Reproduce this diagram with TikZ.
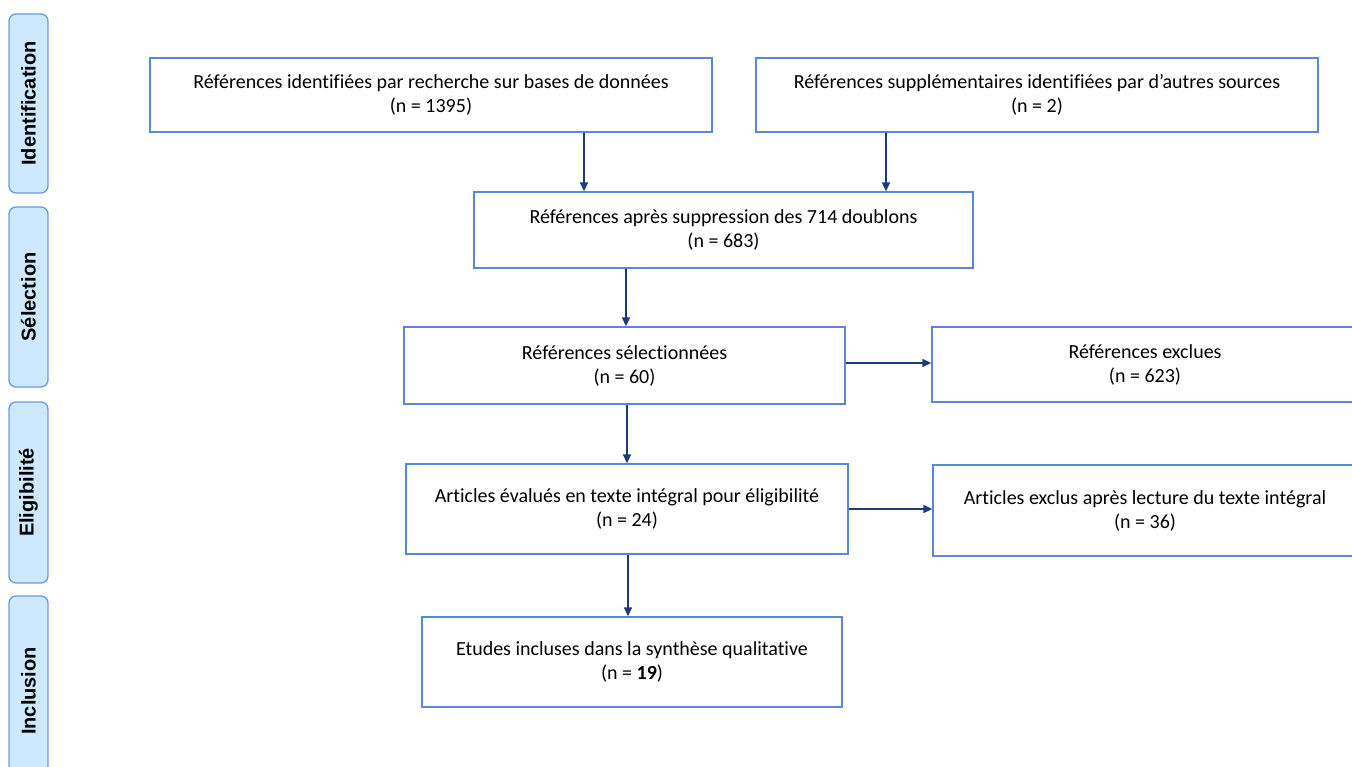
\documentclass[tikz,border=0pt]{standalone}
\usepackage{fontspec}
\setmainfont[Ligatures={NoCommon}]{Carlito}
\newfontfamily\sidefont{Liberation Sans}
\usetikzlibrary{arrows.meta}
\definecolor{boxline}{HTML}{5B87D6}
\definecolor{arrowc}{HTML}{1F3A78}
\definecolor{sidefill}{HTML}{CDE9FF}
\definecolor{sideline}{HTML}{6A9BE3}
\tikzset{
  flowbox/.style={draw=boxline, line width=1.3pt, fill=white, align=center,
    font=\fontsize{20}{24}\selectfont, inner sep=0pt},
  phase/.style={draw=sideline, line width=1.3pt, fill=sidefill, rounded corners=7pt,
    minimum width=39pt, font=\sidefont\bfseries\fontsize{20}{22}\selectfont, inner sep=0pt},
  flowarrow/.style={draw=arrowc, line width=1.5pt, -{Triangle[length=9pt,width=8pt]}}
}
\begin{document}
\begin{tikzpicture}[x=1pt,y=-1pt]
\clip (0,0) rectangle (1352,767);
\fill[white] (0,0) rectangle (1352,767);
% phase labels
\node[phase, minimum height=179pt] (p1) at (28.5,103.5) {\rotatebox{90}{Identification}};
\node[phase, minimum height=180pt] (p2) at (28.5,297) {\rotatebox{90}{Sélection}};
\node[phase, minimum height=181pt] (p3) at (28.5,492.5) {\rotatebox{90}{Eligibilité}};
\node[phase, minimum height=190pt] (p4) at (28.5,691) {\rotatebox{90}{Inclusion}};
% boxes
\node[flowbox, minimum width=562pt, minimum height=74pt] (a) at (431,95) {Références identifiées par recherche sur bases de données\\(n = 1395)};
\node[flowbox, minimum width=562pt, minimum height=74pt] (b) at (1037,95) {Références supplémentaires identifiées par d’autres sources\\(n = 2)};
\node[flowbox, minimum width=499pt, minimum height=76pt] (c) at (723.5,230) {Références après suppression des 714 doublons\\(n = 683)};
\node[flowbox, minimum width=441pt, minimum height=77pt] (d) at (624.5,365.5) {Références sélectionnées\\(n = 60)};
\node[flowbox, minimum width=426pt, minimum height=75pt] (e) at (1145,364.5) {Références exclues\\(n = 623)};
\node[flowbox, minimum width=442pt, minimum height=90pt] (f) at (627,509) {Articles évalués en texte intégral pour éligibilité\\(n = 24)};
\node[flowbox, minimum width=424pt, minimum height=91pt] (g) at (1145,510.5) {Articles exclus après lecture du texte intégral\\(n = 36)};
\node[flowbox, minimum width=420pt, minimum height=90pt] (h) at (632,662) {Etudes incluses dans la synthèse qualitative\\(n = \textbf{19})};
% arrows
\draw[flowarrow] (a.south -| 584,0) -- (c.north -| 584,0);
\draw[flowarrow] (b.south -| 886,0) -- (c.north -| 886,0);
\draw[flowarrow] (c.south -| 626,0) -- (d.north -| 626,0);
\draw[flowarrow] (d.east |- 0,363) -- (e.west |- 0,363);
\draw[flowarrow] (d.south -| 627,0) -- (f.north -| 627,0);
\draw[flowarrow] (f.east |- 0,509) -- (g.west |- 0,509);
\draw[flowarrow] (f.south -| 628,0) -- (h.north -| 628,0);
\end{tikzpicture}
\end{document}
